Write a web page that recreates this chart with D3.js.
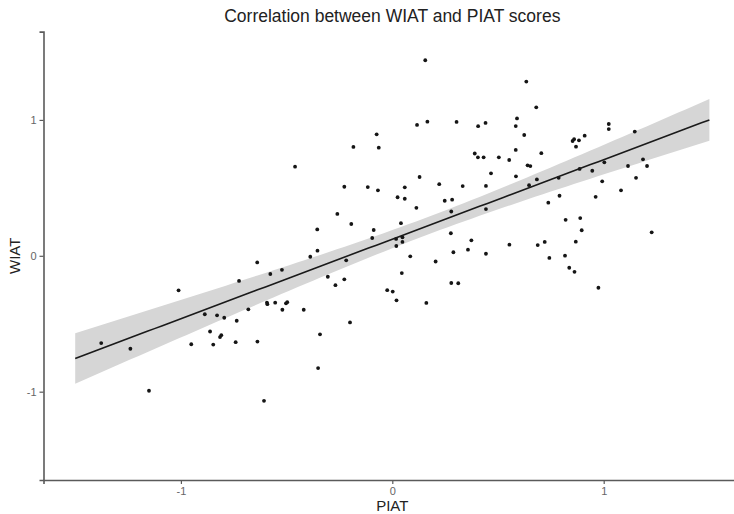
<!DOCTYPE html>
<html>
<head>
<meta charset="utf-8">
<script src="https://cdn.jsdelivr.net/npm/d3@7"></script>
<style>
  body { margin: 0; background: #fff; }
  svg { display: block; font-family: "Liberation Sans", Arial, sans-serif; }
</style>
</head>
<body>
<div id="chart"></div>
<script>
// PIAT (x) and WIAT (y) scores
var piat = [0.156, 0.117, 0.166, 0.304, 0.406, 0.441, -0.074, -0.184, -0.064, -0.460,
    0.390, 0.405, 0.432, 0.504, 0.129, 0.467, 0.222, -0.227, -0.116, -0.068,
    0.059, 0.333, 0.443, 0.025, 0.059, 0.248, 0.283, 0.114, 0.279, 0.443,
    -0.260, -0.194, 0.041, -0.355, -0.088, 0.634, 0.681, 0.590, 0.584, 0.624,
    1.024, 1.024, 1.147, 0.853, 0.860, 0.883, 0.910, 0.869, 0.584, 0.553,
    0.705, 0.640, 0.653, 0.585, 0.684, 0.647, 0.787, 0.886, 0.946, 1.003,
    1.186, 1.115, 1.205, 1.153, 0.993, 1.082, 0.962, 0.791, 0.738, 0.820,
    0.889, 0.896, -0.639, -0.577, -0.725, -1.011, -0.593, -0.591, -0.554, -0.681,
    -0.887, -0.829, -0.795, -0.736, -0.862, -0.809, -0.815, -1.377, -1.239, -0.951,
    -0.847, -0.741, -0.638, -1.151, -0.607, -0.095, 0.018, 0.048, 0.048, 0.019,
    -0.354, -0.388, -0.218, 0.277, 0.374, 0.289, 0.358, 0.443, 0.085, 0.205,
    -0.522, -0.305, -0.227, -0.269, 0.045, -0.024, 0.002, 0.020, 0.161, 0.279,
    0.312, -0.503, -0.497, -0.520, -0.419, -0.200, -0.342, -0.351, 0.554, 0.688,
    0.721, 0.868, 0.743, 0.817, 0.837, 0.862, 0.975, 1.227];

var wiat = [1.439, 0.963, 0.987, 0.985, 0.954, 0.978, 0.894, 0.801, 0.796, 0.656,
    0.753, 0.725, 0.725, 0.725, 0.580, 0.607, 0.527, 0.508, 0.506, 0.482,
    0.504, 0.513, 0.514, 0.431, 0.420, 0.405, 0.413, 0.353, 0.326, 0.344,
    0.308, 0.234, 0.240, 0.194, 0.190, 1.282, 1.093, 1.011, 0.955, 0.889,
    0.970, 0.933, 0.914, 0.845, 0.858, 0.850, 0.884, 0.803, 0.779, 0.705,
    0.755, 0.666, 0.660, 0.585, 0.562, 0.520, 0.574, 0.639, 0.626, 0.688,
    0.710, 0.661, 0.661, 0.574, 0.548, 0.482, 0.434, 0.442, 0.391, 0.265,
    0.278, 0.188, -0.049, -0.134, -0.185, -0.254, -0.344, -0.356, -0.345, -0.394,
    -0.430, -0.438, -0.456, -0.478, -0.557, -0.584, -0.598, -0.642, -0.684, -0.651,
    -0.653, -0.636, -0.631, -0.993, -1.067, 0.131, 0.124, 0.136, 0.102, 0.072,
    0.038, -0.007, -0.033, 0.166, 0.114, 0.026, 0.045, 0.015, -0.004, -0.042,
    -0.103, -0.154, -0.173, -0.216, -0.127, -0.253, -0.263, -0.328, -0.347, -0.200,
    -0.202, -0.350, -0.342, -0.397, -0.397, -0.490, -0.578, -0.826, 0.082, 0.079,
    0.102, 0.104, -0.016, 0.001, -0.088, -0.118, -0.235, 0.173];

var xTicks = [-1, 0, 1];
var yTicks = [-1, 0, 1];
var xLimits = [-1.5, 1.5];
var yLimits = [-1.5, 1.5];

var margin = { top: 31.6, right: 0, bottom: 34, left: 43.5 },
    width = 697.6,
    height = 448.4;

var svg = d3.select("#chart")
    .append("svg")
    .attr("width", 734)
    .attr("height", 514);

var g = svg.append("g")
    .attr("transform", "translate(" + margin.left + "," + margin.top + ")");

// ggplot style 5% expansion around the limits
var xPad = (xLimits[1] - xLimits[0]) * 0.05,
    yPad = (yLimits[1] - yLimits[0]) * 0.05;

var x = d3.scaleLinear()
    .domain([xLimits[0] - xPad, xLimits[1] + xPad])
    .range([0, width]);

var y = d3.scaleLinear()
    .domain([yLimits[0] - yPad, yLimits[1] + yPad])
    .range([height, 0]);

// linear fit with 95% confidence band (like geom_smooth(method = "lm"))
var n = piat.length,
    mx = d3.mean(piat),
    my = d3.mean(wiat),
    sxx = d3.sum(piat, function (d) { return (d - mx) * (d - mx); }),
    sxy = d3.sum(piat, function (d, i) { return (d - mx) * (wiat[i] - my); }),
    slope = sxy / sxx,
    intercept = my - slope * mx,
    sse = d3.sum(piat, function (d, i) {
        var r = wiat[i] - (intercept + slope * d);
        return r * r;
    }),
    sigma = Math.sqrt(sse / (n - 2)),
    tq = 1.9776;

var fit = d3.range(0, 81).map(function (i) {
    var xv = xLimits[0] + (xLimits[1] - xLimits[0]) * i / 80,
        yv = intercept + slope * xv,
        se = sigma * Math.sqrt(1 / n + (xv - mx) * (xv - mx) / sxx);
    return { x: xv, y: yv, lo: yv - tq * se, hi: yv + tq * se };
});

g.append("path")
    .datum(fit)
    .attr("fill", "#d6d6d6")
    .attr("d", d3.area()
        .x(function (d) { return x(d.x); })
        .y0(function (d) { return y(d.lo); })
        .y1(function (d) { return y(d.hi); }));

g.selectAll(".dot")
    .data(piat)
    .enter()
    .append("circle")
    .attr("class", "dot")
    .attr("cx", function (d) { return x(d); })
    .attr("cy", function (d, i) { return y(wiat[i]); })
    .attr("r", 1.9)
    .attr("fill", "#151515");

g.append("path")
    .datum(fit)
    .attr("fill", "none")
    .attr("stroke", "#1a1a1a")
    .attr("stroke-width", 1.6)
    .attr("d", d3.line()
        .x(function (d) { return x(d.x); })
        .y(function (d) { return y(d.y); }));

// axes
var xAxis = g.append("g")
    .attr("transform", "translate(0," + height + ")")
    .call(d3.axisBottom(x).tickValues(xTicks).tickSize(4).tickPadding(3).tickFormat(d3.format("d")));

var yAxis = g.append("g")
    .call(d3.axisLeft(y).tickValues(yTicks).tickSize(4).tickPadding(3).tickFormat(d3.format("d")));

[xAxis, yAxis].forEach(function (ax) {
    ax.select(".domain").attr("stroke", "#5a5a5a").attr("stroke-width", 1.6);
    ax.selectAll(".tick line").attr("stroke", "#5a5a5a").attr("stroke-width", 1.2);
    ax.selectAll(".tick text")
        .attr("fill", "#666")
        .style("font-size", "11px")
        .style("font-family", "Liberation Sans, Arial, sans-serif");
});
// replace the d3 minus sign with a plain hyphen, as in the picture
svg.selectAll(".tick text").text(function (d) { return String(d); });

svg.append("text")
    .attr("x", margin.left + width / 2)
    .attr("y", 22)
    .attr("fill", "#222")
    .style("font-size", "17.5px")
    .style("text-anchor", "middle")
    .text("Correlation between WIAT and PIAT scores");

svg.append("text")
    .attr("x", margin.left + width / 2)
    .attr("y", 511)
    .attr("fill", "#222")
    .style("font-size", "15px")
    .style("text-anchor", "middle")
    .text("PIAT");

svg.append("text")
    .attr("transform", "translate(20," + (margin.top + height / 2) + ") rotate(-90)")
    .attr("fill", "#222")
    .style("font-size", "15px")
    .style("text-anchor", "middle")
    .text("WIAT");
</script>
</body>
</html>
